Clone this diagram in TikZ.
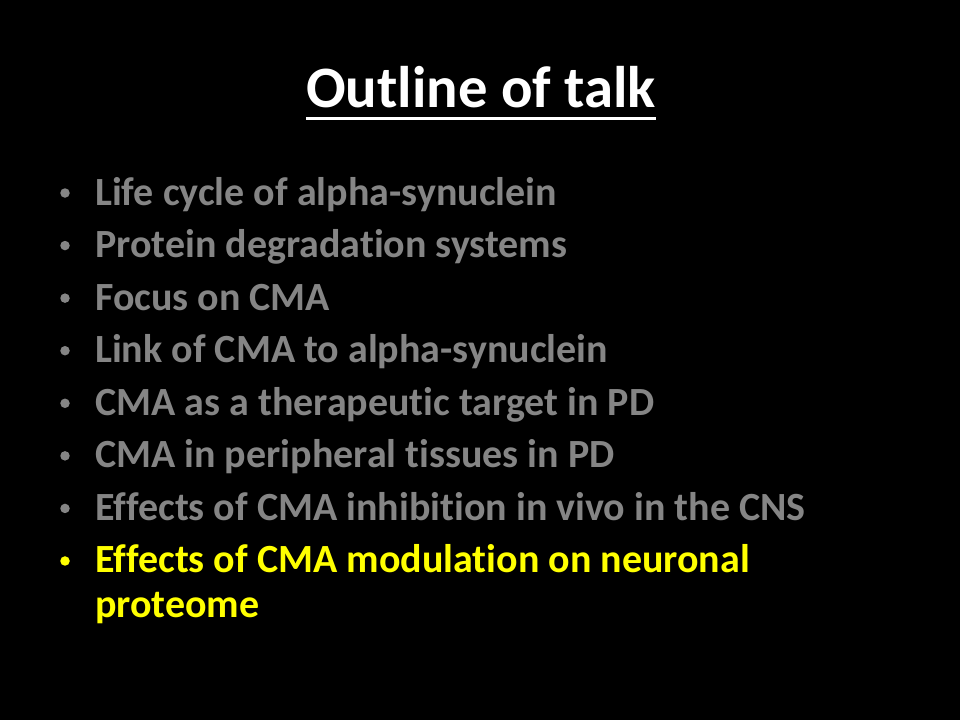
\documentclass[tikz,border=0pt]{standalone}
\usepackage{fontspec}
\setmainfont{Carlito}[Ligatures=NoCommon]
\definecolor{itemgrey}{HTML}{858585}
\definecolor{itemyellow}{HTML}{FFFF00}
\tikzset{
  titletext/.style={text=white,font=\fontsize{58.7}{70}\selectfont\bfseries,inner sep=0pt,anchor=base},
  itemtext/.style={font=\fontsize{40}{44}\selectfont\bfseries,inner sep=0pt,anchor=base west},
  bulletdot/.style={circle,inner sep=0pt,minimum size=9.5pt},
}
\begin{document}
\begin{tikzpicture}[x=1pt,y=-1pt]
\useasboundingbox (0,0) rectangle (960,720);
\fill[black] (0,0) rectangle (960,720);
\node[titletext] (title) at (481,107) {Outline of talk};
\draw[white,line width=3pt] ([yshift=-11.5pt]title.base west) -- ([yshift=-11.5pt]title.base east);
\foreach \t [count=\i from 0] in {Life cycle of alpha-synuclein,Protein degradation systems,Focus on CMA,Link of CMA to alpha-synuclein,CMA as a therapeutic target in PD,CMA in peripheral tissues in PD,Effects of CMA inhibition in vivo in the CNS}{
  \node[itemtext,text=itemgrey] (item\i) at (95,{205+52.57*\i}) {\t};
  \node[bulletdot,fill=itemgrey] (dot\i) at (65,{193+52.57*\i}) {};
}
\node[itemtext,text=itemyellow] (item7) at (95,{205+52.57*7}) {\parbox[t]{800pt}{\raggedright Effects of CMA modulation on neuronal\\proteome}};
\node[bulletdot,fill=itemyellow] (dot7) at (65,{193+52.57*7}) {};
\end{tikzpicture}
\end{document}
